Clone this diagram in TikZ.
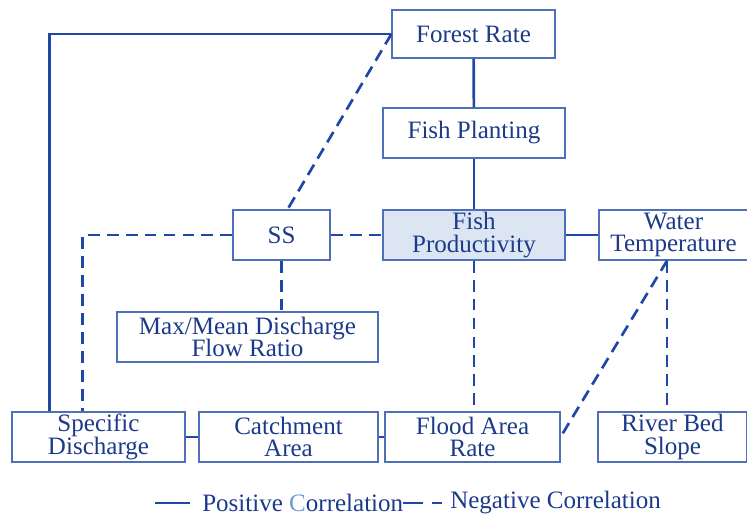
\documentclass[tikz,border=0pt]{standalone}
\usepackage{fontspec}
\setmainfont{Liberation Serif}
\usetikzlibrary{shadows}
\definecolor{textblue}{HTML}{1B3A8A}
\definecolor{lineblue}{HTML}{1F47A6}
\definecolor{boxblue}{HTML}{4D70B8}
\definecolor{fillblue}{HTML}{DCE6F2}
\definecolor{paleblue}{HTML}{6C9AD8}
\newcommand{\boxfont}{\fontsize{17.8}{16}\selectfont\lineskiplimit=-20pt\relax}

\begin{document}
\begin{tikzpicture}[x=0.025cm, y=-0.025cm,
  box node/.style={rectangle, draw=boxblue, line width=0.8pt, fill=white, minimum height=1.25cm, inner sep=0pt, align=center, text=textblue, font=\boxfont, drop shadow={opacity=0.2, shadow xshift=0.9pt, shadow yshift=-0.9pt}},
  legend text/.style={inner sep=0pt, anchor=west, text=textblue, font=\boxfont},
  pos line/.style={draw=lineblue, line width=1.9pt},
  neg line/.style={draw=lineblue, line width=1.9pt, dash pattern=on 8.5pt off 5pt}]
  \useasboundingbox (0,0) rectangle (747,517);

  \node[box node, minimum width=4.075cm, minimum height=1.2cm] (fr) at (473.5,34) {Forest Rate};
  \node[box node, minimum width=4.55cm] (fpl) at (474,133) {Fish Planting};
  \node[box node, minimum width=2.425cm] (ss) at (281.5,235) {SS};
  \node[box node, minimum width=4.55cm, fill=fillblue] (fp) at (474,235) {Fish\\Productivity};
  \node[box node, minimum width=3.725cm] (wt) at (673.5,235) {Water\\Temperature};
  \node[box node, minimum width=6.525cm] (mm) at (247.5,337) {Max/Mean Discharge\\Flow Ratio};
  \node[box node, minimum width=4.325cm] (sd) at (98.5,437) {Specific\\Discharge};
  \node[box node, minimum width=4.475cm] (ca) at (288.5,437) {Catchment\\Area};
  \node[box node, minimum width=4.375cm] (fa) at (472.5,437) {Flood Area\\Rate};
  \node[box node, minimum width=3.725cm] (rb) at (672.5,437) {River Bed\\Slope};

  \coordinate (sdl) at ([xshift=0.95cm]sd.north west);
  \coordinate (sdr) at ([xshift=1.775cm]sd.north west);
  \coordinate (wtb) at ([xshift=-0.16cm]wt.south);

  % positive correlation
  \draw[pos line] (fr) -- (fpl);
  \draw[pos line] (fpl) -- (fp);
  \draw[pos line] (fp) -- (wt);
  \draw[pos line] (fr.west) -| (sdl);
  \draw[pos line] (sd) -- (ca);
  \draw[pos line] (ca) -- (fa);

  % negative correlation
  \draw[neg line] (fr.west) -- ([xshift=0.15cm]ss.north);
  \draw[neg line] (ss.west) -| (sdr);
  \draw[neg line] (ss) -- (fp);
  \draw[neg line] (ss.south) -- (ss.south |- mm.north);
  \draw[neg line] (fp.south) -- (fp.south |- fa.north);
  \draw[neg line] (wtb) -- (fa.east);
  \draw[neg line] (wtb) -- (wtb |- rb.north);

  % legend
  \coordinate (p1) at (155,503);
  \coordinate (p2) at (190,503);
  \draw[pos line] (p1) -- (p2);
  \node[legend text] (pl) at (202,503) {Positive {\color{paleblue}C}orrelation};
  \coordinate (n1) at (403,503);
  \coordinate (n2) at (442,503);
  \draw[pos line, dash pattern=on 14.2pt off 6.4pt on 7.1pt off 20pt] (n1) -- (n2);
  \node[legend text] (nl) at (450,503) {Negative Correlation};
\end{tikzpicture}
\end{document}
